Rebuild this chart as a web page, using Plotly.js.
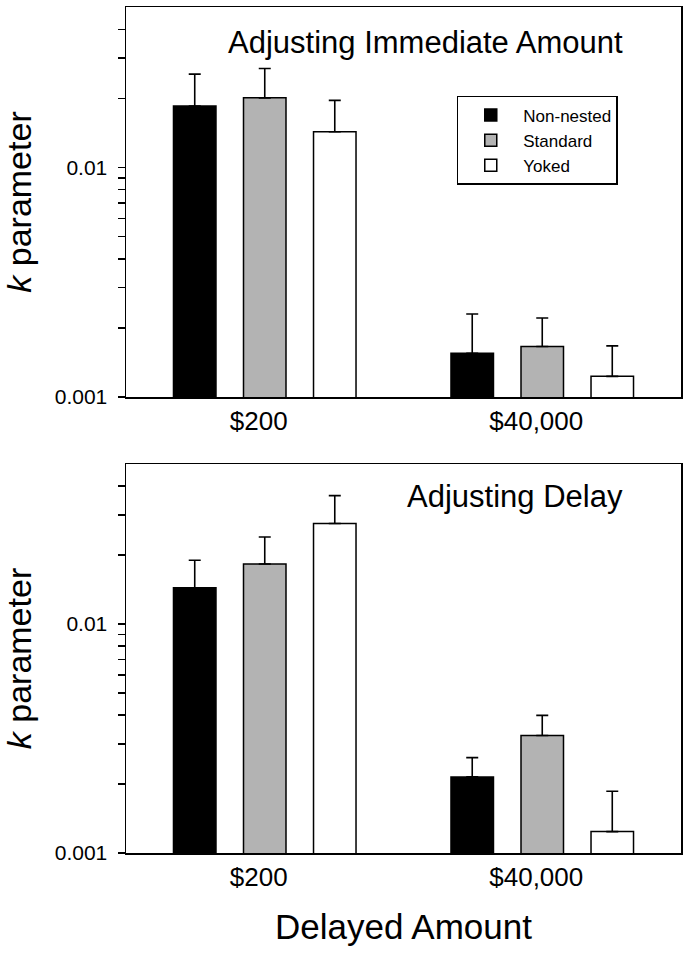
<!DOCTYPE html>
<html>
<head>
<meta charset="utf-8">
<script src="https://cdn.plot.ly/plotly-3.0.1.min.js"></script>
<style>html,body{margin:0;padding:0;background:#fff;}#chart{width:689px;height:955px;}</style>
</head>
<body>
<div id="chart"></div>
<script>
// ---- data ----
const categories = ["$200", "$40,000"];
const seriesNames = ["Non-nested", "Standard", "Yoked"];

// Panel 1: Adjusting Immediate Amount (mean k, upper SE)
const immNonNested = [0.0185, 0.00155];
const immStandard  = [0.0201, 0.00166];
const immYoked     = [0.0143, 0.00123];
const immNonNestedErr = [0.0070, 0.00075];
const immStandardErr  = [0.0069, 0.00055];
const immYokedErr     = [0.0053, 0.00044];

// Panel 2: Adjusting Delay
const delNonNested = [0.0144, 0.00215];
const delStandard  = [0.0183, 0.00326];
const delYoked     = [0.0275, 0.00124];
const delNonNestedErr = [0.0046, 0.00046];
const delStandardErr  = [0.0057, 0.00073];
const delYokedErr     = [0.0089, 0.00062];

const yTickVals = [0.001, 0.01];
const yTickText = ["0.001", "0.01"];
const yMinorTicks = [0.002,0.003,0.004,0.005,0.006,0.007,0.008,0.009,0.02,0.03,0.04];

const panelTitles = ["Adjusting Immediate Amount", "Adjusting Delay"];
const yTitle = "<i>k</i> parameter";
const xTitle = "Delayed Amount";

// ---- styles ----
const fills = ["#000000", "#b3b3b3", "#ffffff"];
const FONT = "Arial, 'Liberation Sans', Helvetica, sans-serif";

function makeTrace(name, vals, errs, idx, xa, ya, showLegend) {
  return {
    type: "bar",
    name: name,
    x: categories,
    y: vals,
    xaxis: xa, yaxis: ya,
    showlegend: showLegend,
    marker: {color: fills[idx], line: {color: "#000", width: 1.5}},
    error_y: {type: "data", symmetric: false, array: errs,
              arrayminus: errs.map(() => 0), color: "#000", thickness: 1.6, width: 6},
    hoverinfo: "skip"
  };
}

const traces = [
  makeTrace(seriesNames[0], immNonNested, immNonNestedErr, 0, "x", "y", true),
  makeTrace(seriesNames[1], immStandard, immStandardErr, 1, "x", "y", true),
  makeTrace(seriesNames[2], immYoked, immYokedErr, 2, "x", "y", true),
  makeTrace(seriesNames[0], delNonNested, delNonNestedErr, 0, "x2", "y2", false),
  makeTrace(seriesNames[1], delStandard, delStandardErr, 1, "x2", "y2", false),
  makeTrace(seriesNames[2], delYoked, delYokedErr, 2, "x2", "y2", false)
];

function yAxis(domain, anchor) {
  return {
    domain: domain, anchor: anchor, type: "log",
    range: [Math.log10(0.001), Math.log10(0.05)],
    tickvals: yTickVals, ticktext: yTickText,
    ticks: "outside", ticklen: 7, tickwidth: 1.5, tickcolor: "#000",
    minor: {tickvals: yMinorTicks, ticks: "outside", ticklen: 7, tickwidth: 1.5, tickcolor: "#000", showgrid: false},
    showline: true, linecolor: "#000", linewidth: 1.5, mirror: true,
    showgrid: false, zeroline: false,
    tickfont: {family: FONT, size: 21, color: "#000"},
    ticklabelstandoff: 6,
    title: {text: yTitle, font: {family: FONT, size: 34, color: "#000"}, standoff: 18},
    fixedrange: true
  };
}
function xAxis(domain, anchor, withTitle) {
  const ax = {
    domain: domain, anchor: anchor, type: "category",
    range: [-0.5, 1.5],
    ticks: "", showline: true, linecolor: "#000", linewidth: 1.5, mirror: true,
    showgrid: false, zeroline: false,
    tickfont: {family: FONT, size: 26, color: "#000"},
    ticklabelstandoff: 0,
    ticklabelshift: -6,
    fixedrange: true
  };
  if (withTitle) ax.title = {text: xTitle, font: {family: FONT, size: 35, color: "#000"}, standoff: 24};
  return ax;
}

const layout = {
  width: 689, height: 955,
  margin: {l: 126, r: 8, t: 7, b: 102},
  paper_bgcolor: "#fff", plot_bgcolor: "#fff",
  font: {family: FONT, color: "#000"},
  barmode: "group", bargap: 0.243, bargroupgap: 0.393,
  xaxis: xAxis([0, 1], "y", false),
  yaxis: yAxis([0.539, 1], "x"),
  xaxis2: xAxis([0, 1], "y2", true),
  yaxis2: yAxis([0, 0.4598], "x2"),
  showlegend: true,
  legend: {
    x: 0.596, y: 0.8948, xanchor: "left", yanchor: "top",
    xref: "paper", yref: "paper",
    bgcolor: "#fff", bordercolor: "#000", borderwidth: 1.5,
    font: {family: FONT, size: 17, color: "#000"},
    itemwidth: 55, tracegroupgap: 0
  },
  annotations: [
    {text: panelTitles[0], xref: "paper", yref: "paper", x: 0.899, y: 0.9586,
     xanchor: "right", yanchor: "middle", showarrow: false,
     font: {family: FONT, size: 31, color: "#000"}},
    {text: panelTitles[1], xref: "paper", yref: "paper", x: 0.899, y: 0.4214,
     xanchor: "right", yanchor: "middle", showarrow: false,
     font: {family: FONT, size: 31, color: "#000"}}
  ]
};

Plotly.newPlot("chart", traces, layout, {staticPlot: true, displayModeBar: false});
</script>
</body>
</html>
